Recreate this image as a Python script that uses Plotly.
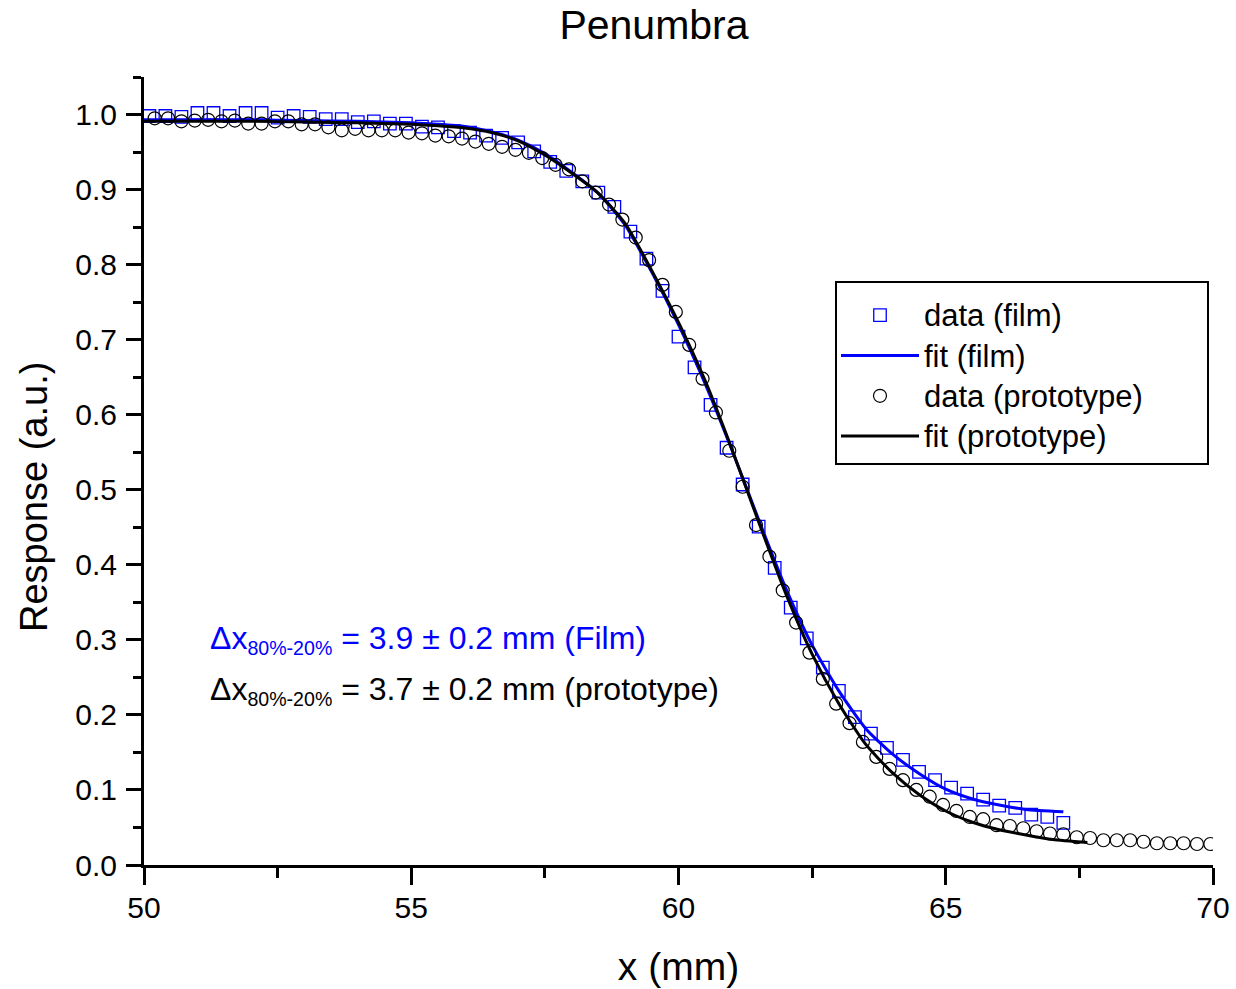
import plotly.graph_objects as go

# ---- film data (blue squares) ----
film_x = [50.1, 50.4, 50.7, 51.0, 51.3, 51.6, 51.9, 52.2, 52.5, 52.8,
          53.1, 53.4, 53.7, 54.0, 54.3, 54.6, 54.9, 55.2, 55.5, 55.8,
          56.1, 56.4, 56.7, 57.0, 57.3, 57.6, 57.9, 58.2, 58.5, 58.8,
          59.1, 59.4, 59.7, 60.0, 60.3, 60.6, 60.9, 61.2, 61.5, 61.8,
          62.1, 62.4, 62.7, 63.0, 63.3, 63.6, 63.9, 64.2, 64.5, 64.8,
          65.1, 65.4, 65.7, 66.0, 66.3, 66.6, 66.9, 67.2]
film_y = [0.998, 0.998, 0.997, 1.002, 1.002, 0.998, 1.002, 1.002, 0.996, 0.998,
          0.997, 0.994, 0.994, 0.990, 0.991, 0.988, 0.988, 0.984, 0.983, 0.978,
          0.976, 0.972, 0.969, 0.963, 0.951, 0.937, 0.925, 0.911, 0.896, 0.877,
          0.844, 0.808, 0.765, 0.704, 0.663, 0.613, 0.556, 0.507, 0.451, 0.396,
          0.343, 0.302, 0.263, 0.232, 0.197, 0.175, 0.156, 0.140, 0.124, 0.113,
          0.103, 0.095, 0.087, 0.079, 0.076, 0.067, 0.064, 0.056]

# ---- film fit (blue line) ----
film_fit_x = [50.0, 51.0, 52.0, 53.0, 54.0, 55.0, 55.5, 56.0, 56.5, 57.0,
              57.5, 58.0, 58.5, 59.0, 59.5, 60.0, 60.5, 61.0, 61.5, 62.0,
              62.5, 63.0, 63.5, 64.0, 64.5, 65.0, 65.5, 66.0, 66.5, 67.2]
film_fit_y = [0.993, 0.993, 0.993, 0.992, 0.991, 0.989, 0.987, 0.984, 0.977, 0.966,
              0.948, 0.923, 0.895, 0.853, 0.790, 0.720, 0.641, 0.553, 0.460, 0.370,
              0.293, 0.232, 0.182, 0.148, 0.122, 0.101, 0.088, 0.080, 0.074, 0.071]

# ---- prototype data (black circles) ----
proto_x = [50.2, 50.45, 50.7, 50.95, 51.2, 51.45, 51.7, 51.95, 52.2, 52.45,
           52.7, 52.95, 53.2, 53.45, 53.7, 53.95, 54.2, 54.45, 54.7, 54.95,
           55.2, 55.45, 55.7, 55.95, 56.2, 56.45, 56.7, 56.95, 57.2, 57.45,
           57.7, 57.95, 58.2, 58.45, 58.7, 58.95, 59.2, 59.45, 59.7, 59.95,
           60.2, 60.45, 60.7, 60.95, 61.2, 61.45, 61.7, 61.95, 62.2, 62.45,
           62.7, 62.95, 63.2, 63.45, 63.7, 63.95, 64.2, 64.45, 64.7, 64.95,
           65.2, 65.45, 65.7, 65.95, 66.2, 66.45, 66.7, 66.95, 67.2, 67.45,
           67.7, 67.95, 68.2, 68.45, 68.7, 68.95, 69.2, 69.45, 69.7, 69.95]
proto_y = [0.995, 0.995, 0.991, 0.992, 0.993, 0.991, 0.992, 0.988, 0.988, 0.991,
           0.991, 0.987, 0.987, 0.983, 0.979, 0.981, 0.979, 0.979, 0.979, 0.976,
           0.975, 0.972, 0.971, 0.968, 0.964, 0.961, 0.957, 0.953, 0.949, 0.942,
           0.933, 0.927, 0.911, 0.896, 0.880, 0.860, 0.836, 0.806, 0.773, 0.737,
           0.693, 0.648, 0.603, 0.552, 0.504, 0.453, 0.411, 0.366, 0.323, 0.283,
           0.248, 0.215, 0.189, 0.164, 0.144, 0.128, 0.113, 0.100, 0.091, 0.080,
           0.072, 0.064, 0.061, 0.053, 0.052, 0.049, 0.045, 0.042, 0.041, 0.037,
           0.036, 0.033, 0.033, 0.033, 0.031, 0.029, 0.029, 0.029, 0.028, 0.028]

# ---- prototype fit (black line) ----
proto_fit_x = [50.0, 51.0, 52.0, 53.0, 54.0, 55.0, 55.5, 56.0, 56.5, 57.0,
               57.5, 58.0, 58.5, 59.0, 59.5, 60.0, 60.5, 61.0, 61.5, 62.0,
               62.5, 63.0, 63.5, 64.0, 64.5, 65.0, 65.5, 66.0, 66.5, 67.0, 67.65]
proto_fit_y = [0.991, 0.991, 0.991, 0.990, 0.989, 0.987, 0.985, 0.982, 0.976, 0.965,
               0.946, 0.922, 0.895, 0.855, 0.792, 0.723, 0.645, 0.554, 0.457, 0.363,
               0.281, 0.215, 0.161, 0.123, 0.094, 0.072, 0.057, 0.047, 0.040, 0.034, 0.030]

legend_names = ["data (film)", "fit (film)", "data (prototype)", "fit (prototype)"]
title_text = "Penumbra"
x_title = "x (mm)"
y_title = "Response (a.u.)"
delta_label = "Δx"
sub_label = "80%-20%"
note_film = " = 3.9 ± 0.2 mm (Film)"
note_proto = " = 3.7 ± 0.2 mm (prototype)"

FONT = "Arial, Liberation Sans, sans-serif"
BLUE = "#0000FF"
LEG_TXT = '<span style="font-size:31px">{}</span>'

W, H = 1236, 989
# plot-area pixel geometry (for paper-coordinate placement of decorations)
L, R, T, B = 144, 1213, 77, 865
PW, PH = R - L, B - T


def px(xp):
    return (xp - L) / PW


def py(yp):
    return (B - yp) / PH


fig = go.Figure()
fig.add_trace(go.Scatter(x=film_x, y=film_y, mode="markers", name=LEG_TXT.format(legend_names[0]),
                         marker=dict(symbol="square-open", size=12.5, color=BLUE,
                                     line=dict(width=1.3, color=BLUE))))
fig.add_trace(go.Scatter(x=film_fit_x, y=film_fit_y, mode="lines", name=LEG_TXT.format(legend_names[1]),
                         line=dict(color=BLUE, width=3, shape="spline", smoothing=0.6)))
fig.add_trace(go.Scatter(x=proto_x, y=proto_y, mode="markers", name=LEG_TXT.format(legend_names[2]),
                         marker=dict(symbol="circle-open", size=13, color="black",
                                     line=dict(width=1.2, color="black"))))
fig.add_trace(go.Scatter(x=proto_fit_x, y=proto_fit_y, mode="lines", name=LEG_TXT.format(legend_names[3]),
                         line=dict(color="black", width=3, shape="spline", smoothing=0.6)))

fig.update_layout(
    width=W, height=H,
    margin=dict(l=L, r=W - R, t=T, b=H - B, autoexpand=False),
    paper_bgcolor="white", plot_bgcolor="white",
    font=dict(family=FONT, color="black", size=29),
    title=dict(text=title_text, x=654 / W, xanchor="center", y=1 - 25 / H, yanchor="middle",
               font=dict(size=41, family=FONT, color="black")),
    showlegend=True,
    legend=dict(x=px(836), y=py(290), xanchor="left", yanchor="top",
                borderwidth=0, bgcolor="rgba(0,0,0,0)",
                font=dict(size=28.7, family=FONT, color="black"),
                itemwidth=78, tracegroupgap=0),
    xaxis=dict(range=[50, 70], showgrid=False, zeroline=False, automargin=False,
               showline=True, linecolor="black", linewidth=3,
               ticks="outside", ticklen=17, tickwidth=2.5, tickcolor="black",
               dtick=5, tick0=50, tickfont=dict(size=30, family=FONT, color="black"),
               ticklabelstandoff=-3,
               minor=dict(dtick=2.5, ticks="outside", ticklen=10, tickwidth=2.5,
                          tickcolor="black", showgrid=False),
               title=dict(text=x_title, font=dict(size=39, family=FONT, color="black"),
                          standoff=30)),
    yaxis=dict(range=[0, 1.05], showgrid=False, zeroline=False, automargin=False,
               showline=True, linecolor="black", linewidth=3,
               ticks="outside", ticklen=15, tickwidth=2.5, tickcolor="black",
               dtick=0.1, tick0=0, tickformat=".1f",
               tickfont=dict(size=30, family=FONT, color="black"),
               ticklabelstandoff=3,
               minor=dict(dtick=0.05, ticks="outside", ticklen=8, tickwidth=2.5,
                          tickcolor="black", showgrid=False)),
)

# legend frame
fig.add_shape(type="rect", xref="paper", yref="paper",
              x0=px(836), x1=px(1208), y0=py(464), y1=py(282),
              line=dict(color="black", width=2), fillcolor="white", layer="above")

fig.add_annotation(text=y_title, xref="paper", yref="paper",
                   x=px(34), y=py(497),
                   xanchor="center", yanchor="middle", textangle=-90, showarrow=False,
                   font=dict(size=38, family=FONT, color="black"))

BIG = '<span style="font-size:32px">{}</span>'
fig.add_annotation(text=BIG.format(delta_label) + "<sub>" + sub_label + "</sub>" + BIG.format(note_film),
                   xref="x", yref="y", x=51.2, y=0.301,
                   xanchor="left", yanchor="middle", showarrow=False,
                   font=dict(size=28, family=FONT, color=BLUE))
fig.add_annotation(text=BIG.format(delta_label) + "<sub>" + sub_label + "</sub>" + BIG.format(note_proto),
                   xref="x", yref="y", x=51.2, y=0.232,
                   xanchor="left", yanchor="middle", showarrow=False,
                   font=dict(size=28, family=FONT, color="black"))

fig.write_html("out.html")
